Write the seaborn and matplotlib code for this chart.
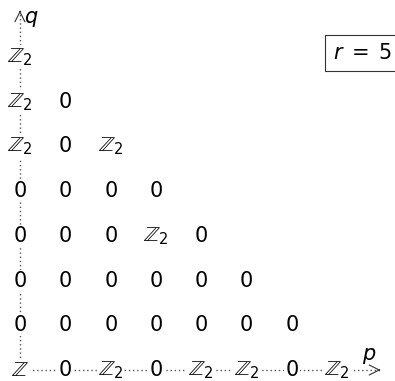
import numpy as np
import pandas as pd
import matplotlib
matplotlib.use('Agg')
import matplotlib.pyplot as plt
import seaborn as sns

# E_r page entries, one list per row q (bottom row q=0 first), entries for p = 0, 1, 2, ...
row_q0 = ['Z', '0', 'Z2', '0', 'Z2', 'Z2', '0', 'Z2']
row_q1 = ['0', '0', '0', '0', '0', '0', '0']
row_q2 = ['0', '0', '0', '0', '0', '0']
row_q3 = ['0', '0', '0', 'Z2', '0']
row_q4 = ['0', '0', '0', '0']
row_q5 = ['Z2', '0', 'Z2']
row_q6 = ['Z2', '0']
row_q7 = ['Z2']
rows = [row_q0, row_q1, row_q2, row_q3, row_q4, row_q5, row_q6, row_q7]
page = 5

labels = {'Z': r'$\mathbb{Z}$', 'Z2': r'$\mathbb{Z}_2$', '0': r'$0$'}

records = []
for q, row in enumerate(rows):
    for p, v in enumerate(row):
        records.append({'p': p, 'q': q, 'label': labels[v]})
df = pd.DataFrame(records)

sns.set_theme(style='white')
plt.rcParams['mathtext.fontset'] = 'dejavusans'
plt.rcParams['font.family'] = ['DejaVu Sans']

fig = plt.figure(figsize=(3.95, 3.81), dpi=100)
ax = fig.add_axes([0, 0, 1, 1])
ax.set_xlim(-0.44, 8.28)
ax.set_ylim(-0.246, 8.275)
ax.axis('off')

dots = dict(color='#555555', lw=1.0, linestyle=(0, (1, 2)))
axes_lines = pd.DataFrame({'x': [0, 8.0], 'y': [0, 0]})
sns.lineplot(data=axes_lines, x='x', y='y', ax=ax, **dots)
axes_lines = pd.DataFrame({'x': [0, 0], 'y': [0, 8.08]})
sns.lineplot(data=axes_lines, x='x', y='y', ax=ax, orient='y', **dots)

head = dict(arrowstyle='->,head_length=0.6,head_width=0.3', color='#333333', lw=0.8)
ax.annotate('', xy=(8.02, 0), xytext=(7.85, 0), arrowprops=head)
ax.annotate('', xy=(0, 8.10), xytext=(0, 7.95), arrowprops=head)

ax.text(7.7, 0.32, r'$p$', fontsize=15, ha='center', va='center', color='black')
ax.text(0.25, 7.85, r'$q$', fontsize=15, ha='center', va='center', color='black')

for _, r in df.iterrows():
    ax.text(r['p'], r['q'], r['label'], fontsize=15, ha='center', va='center', color='black',
            bbox=dict(boxstyle='square,pad=0.05', fc='white', ec='none'))

ax.text(6.91, 7.09, r'$r\;=\;%d$' % page, fontsize=15, ha='left', va='center', color='black',
        bbox=dict(boxstyle='square,pad=0.4', fc='white', ec='#333333', lw=0.8))

fig.savefig('out.png', dpi=100)
